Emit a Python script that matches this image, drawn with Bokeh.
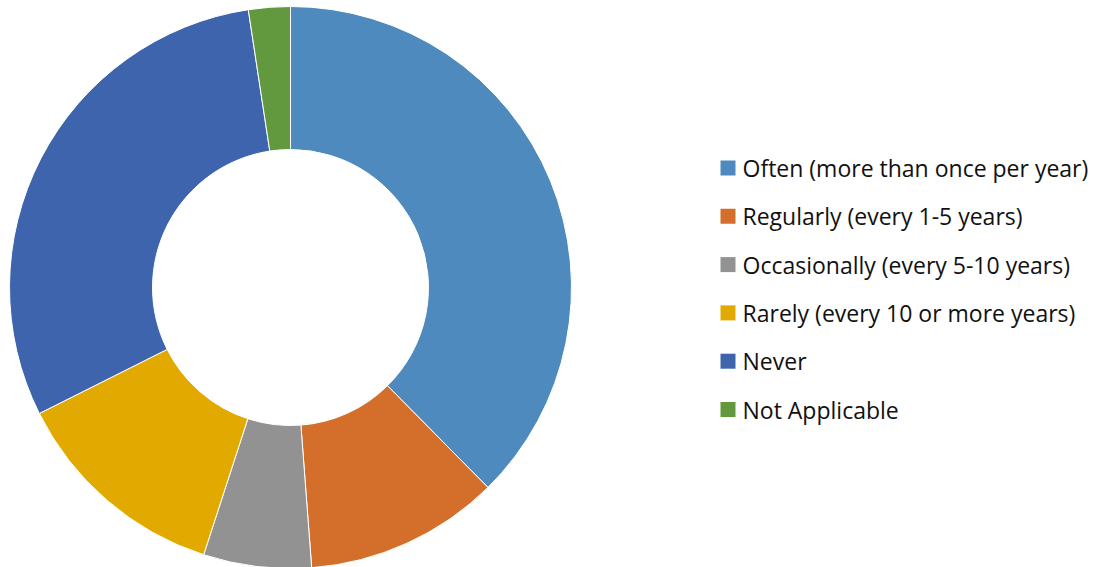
import numpy as np
from bokeh.plotting import figure
from bokeh.models import ColumnDataSource, Range1d
from bokeh.core.properties import value
from bokeh.embed import file_html
from bokeh.resources import INLINE

categories = ["Often (more than once per year)", "Regularly (every 1-5 years)",
              "Occasionally (every 5-10 years)", "Rarely (every 10 or more years)",
              "Never", "Not Applicable"]
shares = [37.6, 11.2, 6.2, 12.6, 30.0, 2.4]
colors = ["#4E8ABE", "#D46F2B", "#929292", "#E2AA00", "#3D64AC", "#62993E"]

W, H = 1105, 567
p = figure(width=W, height=H, output_backend="svg", toolbar_location=None,
           x_range=Range1d(0, W), y_range=Range1d(0, H), min_border=0)
p.axis.visible = False
p.grid.visible = False
p.outline_line_color = None
p.background_fill_color = "white"
p.border_fill_color = "white"

vals = np.array(shares, dtype=float)
ang = vals / vals.sum() * 2 * np.pi
cum = np.concatenate([[0], np.cumsum(ang)[:-1]])
start = np.pi / 2 - cum
end = start - ang

cx, cy = 290, H - 287
src = ColumnDataSource(dict(start=start, end=end, color=colors, label=categories))
p.annular_wedge(x=cx, y=cy, inner_radius=138, outer_radius=281,
                start_angle="start", end_angle="end", direction="clock",
                fill_color="color", line_color="white", line_width=1, source=src)

n = len(categories)
ly0 = H - 167.5
step = 48.3
leg = ColumnDataSource(dict(
    x=[727.5] * n,
    y=[ly0 - i * step for i in range(n)],
    tx=[742] * n,
    color=colors, label=categories))
p.rect(x="x", y="y", width=15, height=15, fill_color="color", line_color=None, source=leg)
p.text(x="tx", y="y", text="label", text_font=value("Open Sans"), text_font_size="23px",
       text_baseline="middle", text_align="left", text_color="#111111", source=leg)

open("out.html", "w").write(file_html(p, INLINE))
